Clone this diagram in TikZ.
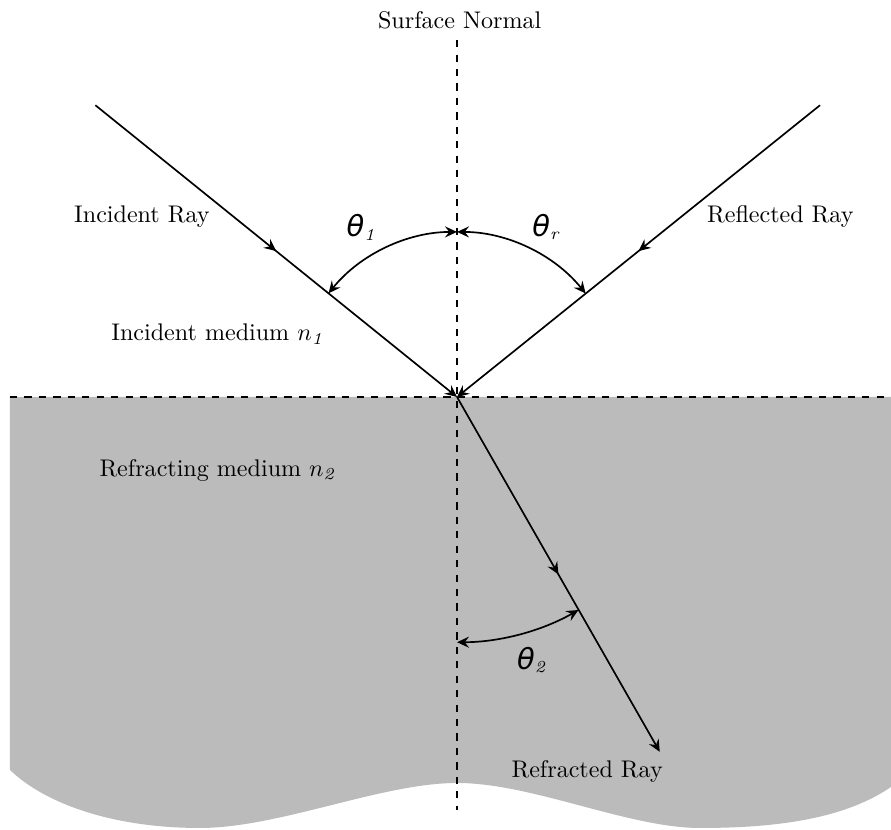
\documentclass[tikz,border=0pt]{standalone}
\usepackage{fontspec}
\usepackage{xcolor}
\usepackage{tikz}
\usetikzlibrary{calc, arrows.meta, decorations.markings}

\newfontfamily\thetafont{DejaVu Sans}
\newcommand{\angsym}[1]{{\thetafont\itshape\large θ}$_{\mathit{#1}}$}
\definecolor{mediumgray}{RGB}{187,187,187}

\tikzset{
    ray/.style={line width=0.7pt},
    midarrow/.style={postaction={decorate}, decoration={markings,
        mark=at position 0.5 with {\arrow{>}}}},
    guide/.style={dashed, thick}
}

\begin{document}
\begin{tikzpicture}[>={Stealth[length=5pt, width=4.6pt, inset=1.8pt]}]

    % =================================================================
    % 1. MAIN POINTS
    % =================================================================
    \useasboundingbox (-6.672,-6.321) rectangle (6.336,5.796);
    \coordinate (O) at (0,0);
    \coordinate (IncStart) at (-5.28,4.26);
    \coordinate (RefStart) at (5.30,4.26);
    \coordinate (RefrEnd) at (2.96,-5.18);

    % ends of the normal and of the surface
    \coordinate (NormTop) at (0,5.21);
    \coordinate (NormBot) at (0,-6.03);
    \coordinate (SurfLeft) at (-6.526,0);
    \coordinate (SurfRight) at (6.336,0);

    % =================================================================
    % 2. REFRACTING MEDIUM (GREY, WAVY BOTTOM)
    % =================================================================
    \fill[mediumgray] (SurfLeft) -- (SurfRight) -- (6.336,-5.693)
        .. controls (5.6,-6.2) and (4.5,-6.292) .. (3.547,-6.292)
        .. controls (2.5,-6.292) and (1.1,-5.635) .. (0,-5.635)
        .. controls (-1.1,-5.635) and (-2.6,-6.292) .. (-3.752,-6.292)
        .. controls (-5.0,-6.292) and (-6.0,-5.95) .. (-6.526,-5.445)
        -- cycle;

    % =================================================================
    % 3. NORMAL AND SURFACE (DASHED)
    % =================================================================
    \draw[guide] (NormTop) -- (NormBot);
    \draw[guide] (SurfLeft) -- (SurfRight);

    % =================================================================
    % 4. RAYS
    % =================================================================
    \draw[ray, midarrow, ->] (IncStart) -- (O);
    \draw[ray, midarrow, ->] (RefStart) -- (O);
    \draw[ray, midarrow, ->] (O) -- (RefrEnd);

    % =================================================================
    % 5. ANGLES
    % =================================================================
    \draw[ray, <->] ([shift={(141.1:2.41)}]O) arc[start angle=141.1, end angle=90, radius=2.41];
    \draw[ray, <->] ([shift={(90:2.41)}]O) arc[start angle=90, end angle=38.8, radius=2.41];
    \draw[ray, <->] ([shift={(-90:3.58)}]O) arc[start angle=-90, end angle=-60.3, radius=3.58];

    \node (LabTheta1) at (-1.40,2.48) {\angsym{1}};
    \node (LabThetaR) at (1.30,2.48) {\angsym{r}};
    \node (LabTheta2) at (1.09,-3.84) {\angsym{2}};

    % =================================================================
    % 6. LABELS
    % =================================================================
    \node (LabNormal) at (0.04,5.504) {Surface Normal};
    \node (LabIncRay) at (-4.60,2.63) {Incident Ray};
    \node (LabRefRay) at (4.72,2.63) {Reflected Ray};
    \node (LabIncMed) at (-3.50,0.92) {Incident medium $n_{\mathit{1}}$};
    \node (LabRefrMed) at (-3.50,-1.07) {Refracting medium $n_{\mathit{2}}$};
    \node (LabRefrRay) at (1.90,-5.47) {Refracted Ray};

\end{tikzpicture}
\end{document}
